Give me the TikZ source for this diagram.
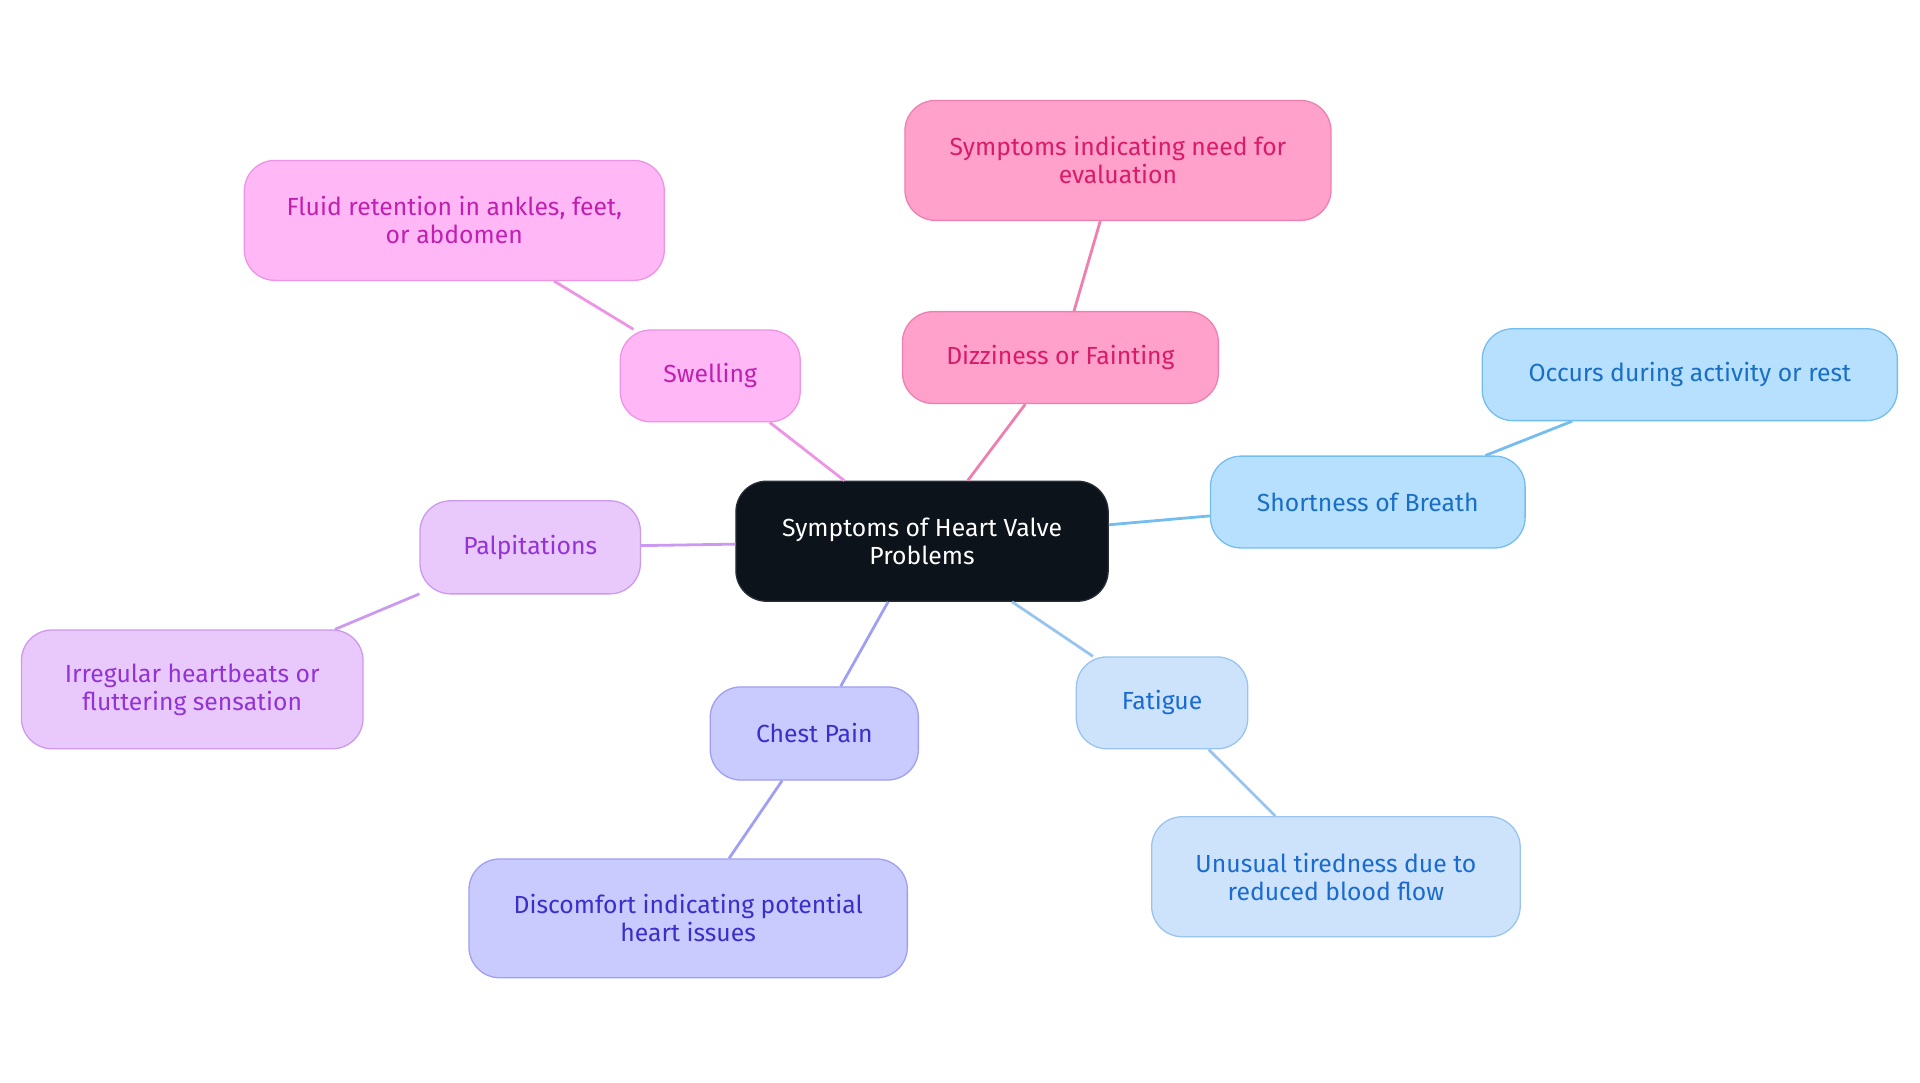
\documentclass[tikz,border=0pt]{standalone}
\usepackage{fontspec}
\setmainfont{Fira Sans}
\begin{document}
\begin{tikzpicture}[x=0.02cm,y=-0.02cm,
 box/.style={rounded corners=0.5cm,line width=0.6pt,align=center,inner sep=0pt,font=\fontsize{11.5}{13}\selectfont},
 pinkb/.style={box,fill=pink1,draw=pink2,text=pink3},
 magb/.style={box,fill=mag1,draw=mag2,text=mag3},
 purb/.style={box,fill=pur1,draw=pur2,text=pur3},
 indb/.style={box,fill=ind1,draw=ind2,text=ind3},
 lblb/.style={box,fill=lb1,draw=lb2,text=lb3},
 skyb/.style={box,fill=sky1,draw=sky2,text=sky3},
 ed/.style={line width=1.3pt}]
\definecolor{pink1}{HTML}{FFA1CA}\definecolor{pink2}{HTML}{EE7FAF}\definecolor{pink3}{HTML}{D81B6A}
\definecolor{mag1}{HTML}{FFB7F6}\definecolor{mag2}{HTML}{EE94E4}\definecolor{mag3}{HTML}{C020B0}
\definecolor{pur1}{HTML}{E9C9FB}\definecolor{pur2}{HTML}{CC99F0}\definecolor{pur3}{HTML}{9333D6}
\definecolor{ind1}{HTML}{C9CAFD}\definecolor{ind2}{HTML}{9FA0F3}\definecolor{ind3}{HTML}{3B2FC9}
\definecolor{lb1}{HTML}{CDE3FB}\definecolor{lb2}{HTML}{99C4F0}\definecolor{lb3}{HTML}{1A6BD0}
\definecolor{sky1}{HTML}{B6E0FD}\definecolor{sky2}{HTML}{74BDF0}\definecolor{sky3}{HTML}{1A6FC4}
\useasboundingbox (0,0) rectangle (1568,884);
\node[box,fill={rgb,255:red,13;green,19;blue,27},draw={rgb,255:red,40;green,45;blue,55},text=white,minimum width=304*0.02cm,minimum height=98*0.02cm] (c) at (753,442) {Symptoms of Heart Valve\\Problems};
\node[pinkb,minimum width=258*0.02cm,minimum height=75*0.02cm] (d) at (866,292) {Dizziness or Fainting};
\node[pinkb,minimum width=348*0.02cm,minimum height=98*0.02cm] (d1) at (913,131) {Symptoms indicating need for\\evaluation};
\node[magb,minimum width=147*0.02cm,minimum height=75*0.02cm] (s) at (580,307) {Swelling};
\node[magb,minimum width=343*0.02cm,minimum height=98*0.02cm] (s1) at (371,180) {Fluid retention in ankles, feet,\\or abdomen};
\node[purb,minimum width=180*0.02cm,minimum height=76*0.02cm] (p) at (433,447) {Palpitations};
\node[purb,minimum width=279*0.02cm,minimum height=97*0.02cm] (p1) at (157,563) {Irregular heartbeats or\\fluttering sensation};
\node[indb,minimum width=170*0.02cm,minimum height=76*0.02cm] (cp) at (665,599) {Chest Pain};
\node[indb,minimum width=358*0.02cm,minimum height=97*0.02cm] (cp1) at (562,750) {Discomfort indicating potential\\heart issues};
\node[lblb,minimum width=140*0.02cm,minimum height=75*0.02cm] (f) at (949,574) {Fatigue};
\node[lblb,minimum width=301*0.02cm,minimum height=98*0.02cm] (f1) at (1091,716) {Unusual tiredness due to\\reduced blood flow};
\node[skyb,minimum width=257*0.02cm,minimum height=75*0.02cm] (b) at (1117,410) {Shortness of Breath};
\node[skyb,minimum width=339*0.02cm,minimum height=75*0.02cm] (b1) at (1380,306) {Occurs during activity or rest};
\begin{scope}[on background layer/.style={}]
\draw[ed,pink2] (c) -- (d); \draw[ed,pink2] (d) -- (d1);
\draw[ed,mag2] (c) -- (s); \draw[ed,mag2] (s) -- (s1);
\draw[ed,pur2] (c) -- (p); \draw[ed,pur2] (p) -- (p1);
\draw[ed,ind2] (c) -- (cp); \draw[ed,ind2] (cp) -- (cp1);
\draw[ed,lb2] (c) -- (f); \draw[ed,lb2] (f) -- (f1);
\draw[ed,sky2] (c) -- (b); \draw[ed,sky2] (b) -- (b1);
\end{scope}
\end{tikzpicture}
\end{document}
